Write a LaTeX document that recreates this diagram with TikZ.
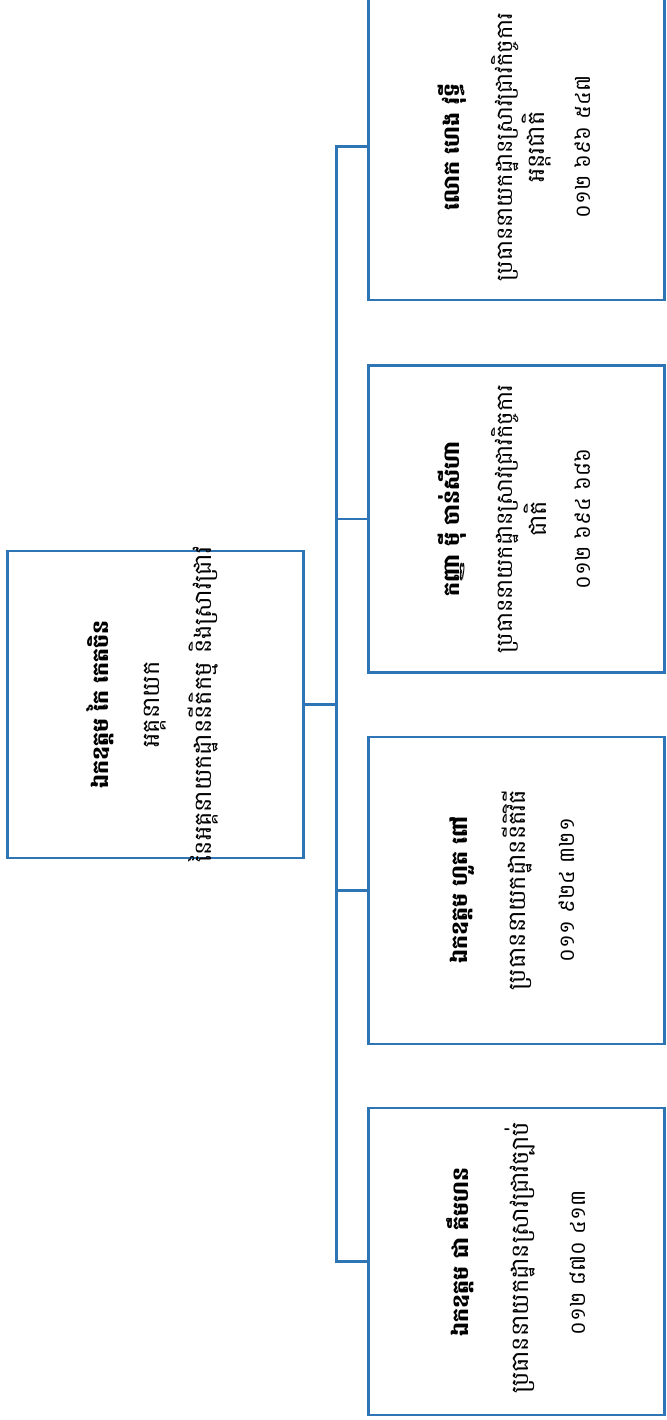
\documentclass[tikz,border=0pt]{standalone}
\usepackage{fontspec}
\newfontfamily\khmerfont[Script=Khmer]{Battambang}
\definecolor{orgblue}{RGB}{46,117,182}

\begin{document}
\begin{tikzpicture}[x=1pt,y=-1pt,
  card/.style={draw=orgblue, line width=2.6pt, minimum width=296pt, minimum height=307pt, inner sep=0pt},
  link/.style={draw=orgblue, line width=2.6pt},
  head/.style={rotate=90, inner sep=0pt, font=\khmerfont\bfseries\fontsize{22}{26}\selectfont},
  role/.style={rotate=90, inner sep=0pt, font=\khmerfont\fontsize{24}{28}\selectfont},
  longrole/.style={role, font=\khmerfont\fontsize{22.5}{28}\selectfont},
  tel/.style={rotate=90, inner sep=0pt, font=\khmerfont\fontsize{21}{26}\selectfont}]
\useasboundingbox (0,0) rectangle (666,1420);
\clip (0,0) rectangle (666,1420);

\node[card] (boss) at (155.5,704.5) {};
\node[head] (bossName) at (100,704.5) {ឯកឧត្តម កៃ កេតចិន};
\node[role] (bossRole) at (155,704.5) {អគ្គនាយក};
\node[role] (bossDept) at (203,704.5) {នៃអគ្គនាយកដ្ឋាននីតិកម្ម និងស្រាវជ្រាវ};

\node[card] (c1) at (516.5,1261.5) {};
\node[head] (c1Name) at (460,1252) {ឯកឧត្តម ជា គឹមហន};
\node[role] (c1Role) at (520,1258) {ប្រធាននាយកដ្ឋានស្រាវជ្រាវច្បាប់};
\node[tel] (c1Tel) at (578,1263) {០១២ ៨៧០ ៤១៣};

\node[card] (c2) at (516.5,890.5) {};
\node[head] (c2Name) at (462,890) {ឯកឧត្តម ហួត ពៅ};
\node[role] (c2Role) at (517,890) {ប្រធាននាយកដ្ឋាននីតិវិធី};
\node[tel] (c2Tel) at (567,890) {០១១ ៩២៤ ៣២១};

\node[card] (c3) at (516.5,519) {};
\node[head] (c3Name) at (452,519) {កញ្ញា ម៉ី ចាន់សីហា};
\node[longrole] (c3Role) at (505,519) {ប្រធាននាយកដ្ឋានស្រាវជ្រាវកិច្ចការ};
\node[role] (c3Scope) at (535,519) {ជាតិ};
\node[tel] (c3Tel) at (583,519) {០១២ ៦៩៤ ៦៨៦};

\node[card] (c4) at (516.5,146.5) {};
\node[head] (c4Name) at (452,147) {លោក ហេង វុទ្ធី};
\node[longrole] (c4Role) at (505,147) {ប្រធាននាយកដ្ឋានស្រាវជ្រាវកិច្ចការ};
\node[role] (c4Scope) at (537,147) {អន្តរជាតិ};
\node[tel] (c4Tel) at (583,147) {០១២ ៦៩៦ ៥៤៧};

\coordinate (bus) at (336.5,704.5);
\draw[link] (boss.east) -- (bus);
\foreach \c in {c1,c2,c3,c4}
  \draw[link] (bus) |- (\c.west);
\end{tikzpicture}
\end{document}
